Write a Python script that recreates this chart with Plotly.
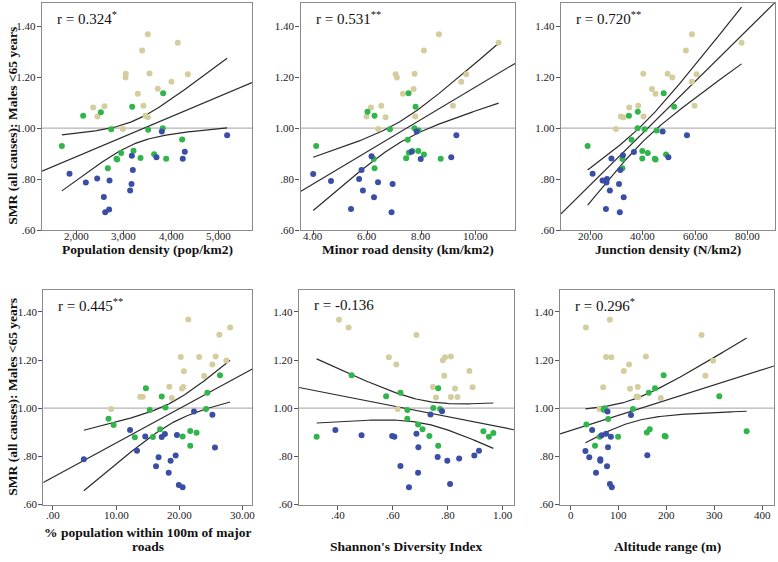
import numpy as np
import plotly.graph_objects as go

# ---------------- data ----------------
smr_title = "SMR (all causes): Males <65 years"
y_tickvals = [0.6, 0.8, 1.0, 1.2, 1.4]
y_ticktext = [".60", ".80", "1.00", "1.20", "1.40"]

# Panel 1: population density
pop_tan_x = [3507, 3387, 4144, 3040, 3033, 3543, 4357, 4010, 3720, 3295, 2347, 2587, 2439, 3415, 3458, 3507, 2977]
pop_tan_y = [1.368, 1.305, 1.335, 1.214, 1.199, 1.215, 1.212, 1.182, 1.155, 1.135, 1.081, 1.086, 1.046, 1.088, 1.049, 1.043, 0.997]
pop_green_x = [1682, 2134, 2510, 2729, 3175, 3833, 3826, 3514, 4236, 2941, 3203, 2842, 2856, 3352, 3642, 3897, 2658]
pop_green_y = [0.930, 1.049, 1.063, 0.996, 1.084, 1.137, 1.000, 0.994, 0.956, 0.903, 0.912, 0.880, 0.877, 0.883, 0.898, 0.880, 0.843]
pop_blue_x = [1844, 2191, 2432, 2694, 2573, 2602, 2686, 3161, 3132, 3189, 3168, 3691, 3805, 4293, 4250, 5192]
pop_blue_y = [0.821, 0.787, 0.803, 0.795, 0.730, 0.670, 0.681, 0.781, 0.756, 0.836, 0.892, 0.886, 0.987, 0.908, 0.880, 0.972]

# Panel 2: minor road density
road_tan_x = [8.654, 10.864, 8.099, 7.753, 7.049, 7.099, 9.667, 9.481, 7.716, 7.321, 9.173, 6.519, 6.136, 5.975, 6.679, 7.778, 6.407]
road_tan_y = [1.368, 1.335, 1.305, 1.214, 1.212, 1.199, 1.212, 1.182, 1.154, 1.135, 1.088, 1.088, 1.081, 1.046, 1.043, 1.046, 0.997]
road_green_x = [4.11, 6.01, 6.27, 6.84, 7.53, 7.79, 7.75, 7.90, 7.50, 7.54, 7.67, 7.89, 8.10, 7.44, 8.72, 6.24, 6.27]
road_green_y = [0.930, 1.065, 1.049, 0.996, 1.137, 1.084, 1.000, 0.991, 0.955, 0.904, 0.911, 0.911, 0.897, 0.882, 0.880, 0.879, 0.843]
road_blue_x = [4.00, 4.66, 5.70, 5.79, 6.16, 6.40, 5.84, 6.25, 5.40, 6.94, 6.90, 7.64, 7.98, 7.83, 9.11, 9.30]
road_blue_y = [0.820, 0.793, 0.801, 0.836, 0.890, 0.788, 0.756, 0.729, 0.683, 0.781, 0.670, 0.908, 0.879, 0.987, 0.886, 0.972]

# Panel 3: junction density
junc_tan_x = [58.8, 56.5, 77.8, 40.2, 49.5, 51.3, 60.6, 58.8, 43.5, 44.9, 34.8, 38.3, 59.8, 31.6, 32.6, 40.3, 29.7]
junc_tan_y = [1.368, 1.305, 1.335, 1.214, 1.214, 1.199, 1.212, 1.182, 1.154, 1.135, 1.081, 1.088, 1.088, 1.046, 1.043, 1.046, 0.997]
junc_green_x = [18.9, 34.7, 38.1, 38.0, 40.7, 45.3, 48.0, 52.0, 35.7, 39.8, 41.9, 39.8, 44.6, 44.9, 48.9, 32.2, 32.2]
junc_green_y = [0.930, 1.049, 1.065, 1.000, 0.996, 0.991, 1.137, 1.084, 0.955, 0.911, 0.903, 0.881, 0.880, 0.877, 0.897, 0.879, 0.843]
junc_blue_x = [20.8, 24.6, 26.3, 26.1, 27.4, 25.9, 31.2, 32.7, 30.9, 31.4, 28.0, 32.4, 36.6, 47.6, 49.8, 56.9]
junc_blue_y = [0.821, 0.795, 0.801, 0.787, 0.756, 0.683, 0.670, 0.729, 0.781, 0.836, 0.881, 0.894, 0.907, 0.987, 0.886, 0.972]

# Panel 4: % population within 100m of major roads
major_tan_x = [21.4, 28.0, 26.3, 20.2, 23.1, 25.7, 27.4, 25.2, 20.7, 23.9, 18.4, 20.6, 20.4, 13.8, 14.2, 18.8, 9.2]
major_tan_y = [1.368, 1.335, 1.305, 1.213, 1.213, 1.215, 1.198, 1.181, 1.153, 1.134, 1.089, 1.088, 1.082, 1.048, 1.048, 1.042, 0.997]
major_green_x = [14.7, 17.2, 15.3, 17.8, 8.8, 9.6, 24.4, 26.4, 24.2, 16.95, 12.95, 15.8, 20.5, 21.7, 22.7, 21.7]
major_green_y = [1.083, 1.049, 0.993, 1.003, 0.956, 0.930, 1.064, 1.137, 0.997, 0.913, 0.879, 0.880, 0.883, 0.905, 0.898, 0.844]
major_blue_x = [4.9, 12.2, 13.3, 14.6, 17.2, 17.7, 19.6, 16.7, 16.3, 19.4, 18.6, 18.3, 19.9, 20.5, 22.3, 25.2, 25.6]
major_blue_y = [0.788, 0.910, 0.823, 0.883, 0.880, 0.893, 0.889, 0.796, 0.759, 0.804, 0.782, 0.732, 0.681, 0.672, 0.986, 0.973, 0.837]

# Panel 5: Shannon's diversity index
shan_tan_x = [0.405, 0.440, 0.686, 0.586, 0.613, 0.790, 0.782, 0.811, 0.878, 0.787, 0.746, 0.826, 0.890, 0.757, 0.811, 0.835, 0.618]
shan_tan_y = [1.367, 1.335, 1.304, 1.212, 1.181, 1.212, 1.199, 1.215, 1.154, 1.135, 1.088, 1.082, 1.087, 1.044, 1.046, 1.047, 0.997]
shan_green_x = [0.324, 0.451, 0.576, 0.628, 0.765, 0.653, 0.653, 0.747, 0.772, 0.692, 0.708, 0.733, 0.765, 0.929, 0.949, 0.965]
shan_green_y = [0.882, 1.137, 1.050, 1.064, 1.083, 0.993, 0.956, 1.001, 0.997, 0.932, 0.913, 0.885, 0.844, 0.904, 0.881, 0.897]
shan_blue_x = [0.392, 0.487, 0.598, 0.606, 0.686, 0.693, 0.628, 0.659, 0.692, 0.763, 0.798, 0.841, 0.808, 0.896, 0.913, 0.737, 0.779]
shan_blue_y = [0.910, 0.888, 0.885, 0.882, 0.894, 0.838, 0.760, 0.672, 0.732, 0.797, 0.782, 0.791, 0.685, 0.804, 0.823, 0.974, 0.987]

# Panel 6: altitude range
alt_tan_x = [32, 82, 273, 74, 85, 122, 157, 297, 111, 281, 68, 124, 140, 137.5, 141, 188, 60]
alt_tan_y = [1.335, 1.367, 1.304, 1.213, 1.212, 1.181, 1.215, 1.197, 1.154, 1.135, 1.087, 1.081, 1.088, 1.049, 1.046, 1.042, 0.997]
alt_green_x = [33, 71, 69, 78.5, 51, 61, 99, 130, 163, 176, 194, 159, 165, 196, 198, 310, 367]
alt_green_y = [0.932, 1.000, 0.994, 0.955, 0.844, 0.882, 0.881, 0.997, 1.064, 1.083, 1.137, 0.899, 0.913, 0.885, 0.883, 1.050, 0.904]
alt_blue_x = [31, 39, 45, 62, 62, 53, 76, 78, 65, 74, 84, 77, 126, 160, 82, 86]
alt_blue_y = [0.822, 0.796, 0.910, 0.788, 0.782, 0.732, 0.759, 0.838, 0.888, 0.894, 0.881, 0.986, 0.972, 0.805, 0.685, 0.672]

r_labels = ["r = 0.324<sup>*</sup>", "r = 0.531<sup>**</sup>", "r = 0.720<sup>**</sup>",
            "r = 0.445<sup>**</sup>", "r = -0.136", "r = 0.296<sup>*</sup>"]
x_titles = ["Population density (pop/km2)", "Minor road density (km/km2)", "Junction density (N/km2)",
            "% population within 100m of major<br>roads", "Shannon's Diversity Index", "Altitude range (m)"]
x_tickvals = [[2000, 3000, 4000, 5000], [4, 6, 8, 10], [20, 40, 60, 80],
              [0, 10, 20, 30], [0.4, 0.6, 0.8, 1.0], [0, 100, 200, 300, 400]]
x_ticktext = [["2,000", "3,000", "4,000", "5,000"], ["4.00", "6.00", "8.00", "10.00"],
              ["20.00", "40.00", "60.00", "80.00"], [".00", "10.00", "20.00", "30.00"],
              [".40", ".60", ".80", "1.00"], ["0", "100", "200", "300", "400"]]

# ---------------- layout geometry ----------------
W, H = 778, 562
x_ranges = [[1260, 5720], [3.53, 11.47], [8.7, 90.6], [-1.5, 31.5], [0.26, 1.04], [-22, 424]]
y_range = [0.6, 1.49]
dom_px_x = [[42, 252], [300.5, 515], [561, 775], [43.3, 252.3], [299, 514], [560, 774]]
dom_px_y = [[3.3, 232.7], [3.3, 232.7], [3.3, 232.7], [293.3, 510], [293.3, 510], [293.3, 510]]
xlab_px_y = [239, 239, 239, 520.5, 520.5, 520.5]

TAN, GREEN, BLUE = "#d4ce9f", "#30b54b", "#3a4ea6"
LINE = "#2b2b2b"
SERIF = "Liberation Serif"
tick_font = dict(family=SERIF, size=11, color="#222222")

groups = [
    (pop_tan_x, pop_tan_y, pop_green_x, pop_green_y, pop_blue_x, pop_blue_y),
    (road_tan_x, road_tan_y, road_green_x, road_green_y, road_blue_x, road_blue_y),
    (junc_tan_x, junc_tan_y, junc_green_x, junc_green_y, junc_blue_x, junc_blue_y),
    (major_tan_x, major_tan_y, major_green_x, major_green_y, major_blue_x, major_blue_y),
    (shan_tan_x, shan_tan_y, shan_green_x, shan_green_y, shan_blue_x, shan_blue_y),
    (alt_tan_x, alt_tan_y, alt_green_x, alt_green_y, alt_blue_x, alt_blue_y),
]

fig = go.Figure()
annotations = []
shapes = []

for i, g in enumerate(groups):
    k = i + 1
    xa = "x" if k == 1 else f"x{k}"
    ya = "y" if k == 1 else f"y{k}"
    tx, ty, gx, gy, bx, by = g

    # reference line at 1.00
    shapes.append(dict(type="line", xref=f"{xa} domain", yref=ya, x0=0, x1=1, y0=1.0, y1=1.0,
                       line=dict(color="#b4b4b4", width=1.2), layer="below"))

    # regression with 95% CI of the mean, computed from the points
    X = np.array(tx + gx + bx, dtype=float)
    Y = np.array(ty + gy + by, dtype=float)
    n = len(X)
    b, a = np.polyfit(X, Y, 1)
    resid = Y - (a + b * X)
    s = np.sqrt(np.sum(resid ** 2) / (n - 2))
    sxx = np.sum((X - X.mean()) ** 2)
    tcrit = 2.0106
    xs = np.linspace(X.min(), X.max(), 120)
    yh = a + b * xs
    half = tcrit * s * np.sqrt(1.0 / n + (xs - X.mean()) ** 2 / sxx)
    xr = np.array(x_ranges[i], dtype=float)

    for yy in (yh + half, yh - half):
        fig.add_trace(go.Scatter(x=xs, y=yy, mode="lines", xaxis=xa, yaxis=ya,
                                 line=dict(color=LINE, width=1.2), hoverinfo="skip", showlegend=False))
    fig.add_trace(go.Scatter(x=xr, y=a + b * xr, mode="lines", xaxis=xa, yaxis=ya,
                             line=dict(color=LINE, width=1.2), hoverinfo="skip", showlegend=False))

    for px, py, col in ((tx, ty, TAN), (gx, gy, GREEN), (bx, by, BLUE)):
        fig.add_trace(go.Scatter(x=px, y=py, mode="markers", xaxis=xa, yaxis=ya,
                                 marker=dict(color=col, size=6, line=dict(width=0)),
                                 showlegend=False, cliponaxis=False))

    axis_common = dict(showline=True, mirror=True, linecolor="#8a8a8a", linewidth=1.4,
                       ticks="outside", ticklen=4, tickcolor="#555555", tickwidth=1,
                       showgrid=False, zeroline=False, tickfont=tick_font)
    dx = dom_px_x[i]
    dy = dom_px_y[i]
    fig.layout[f"xaxis{'' if k == 1 else k}"] = dict(
        axis_common, domain=[dx[0] / W, dx[1] / W], range=x_ranges[i], anchor=ya,
        tickmode="array", tickvals=x_tickvals[i], showticklabels=False)
    fig.layout[f"yaxis{'' if k == 1 else k}"] = dict(
        axis_common, domain=[1 - dy[1] / H, 1 - dy[0] / H], range=y_range, anchor=xa,
        tickmode="array", tickvals=y_tickvals, ticktext=y_ticktext, ticklabelstandoff=-1)

    # x tick labels placed at the tick values
    for tv, tt in zip(x_tickvals[i], x_ticktext[i]):
        annotations.append(dict(text=tt, xref=xa, yref="paper", x=tv, y=1 - xlab_px_y[i] / H,
                                xanchor="center", yanchor="middle", showarrow=False,
                                font=tick_font))

    # r label
    annotations.append(dict(text=r_labels[i], xref="paper", yref="paper",
                            x=(dx[0] + 13) / W, y=1 - (dy[0] + 15) / H,
                            xanchor="left", yanchor="middle", showarrow=False,
                            font=dict(family=SERIF, size=15, color="#111111")))

# x-axis titles
title_font = dict(family=SERIF, size=13.5, color="#111111")
for i in range(6):
    dx = dom_px_x[i]
    cx = (dx[0] + dx[1]) / 2 / W
    if i < 3:
        annotations.append(dict(text="<b>" + x_titles[i] + "</b>", xref="paper", yref="paper",
                                x=cx, y=1 - 252 / H, xanchor="center", yanchor="middle",
                                showarrow=False, font=title_font))
    elif i == 3:
        line1, line2 = x_titles[i].split("<br>")
        annotations.append(dict(text="<b>" + line1 + "</b>", xref="paper", yref="paper",
                                x=cx, y=1 - 538 / H, xanchor="center", yanchor="middle",
                                showarrow=False, font=title_font))
        annotations.append(dict(text="<b>" + line2 + "</b>", xref="paper", yref="paper",
                                x=cx, y=1 - 552 / H, xanchor="center", yanchor="middle",
                                showarrow=False, font=title_font))
    else:
        annotations.append(dict(text="<b>" + x_titles[i] + "</b>", xref="paper", yref="paper",
                                x=cx, y=1 - 552 / H, xanchor="center", yanchor="middle",
                                showarrow=False, font=title_font))

# y-axis titles
for cy in (127, 401):
    annotations.append(dict(text="<b>" + smr_title + "</b>", xref="paper", yref="paper",
                            x=13 / W, y=1 - cy / H, xanchor="center", yanchor="middle",
                            textangle=-90, showarrow=False, font=title_font))

fig.update_layout(width=W, height=H, margin=dict(l=0, r=0, t=0, b=0),
                  paper_bgcolor="white", plot_bgcolor="white",
                  annotations=annotations, shapes=shapes, showlegend=False)

fig.write_html("out.html", config={"displayModeBar": False},
               post_script="document.body.style.margin='0';document.body.style.padding='0';")
